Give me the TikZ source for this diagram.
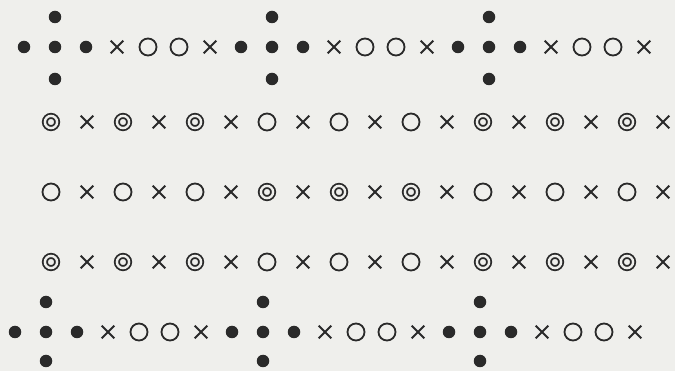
\documentclass[tikz,border=0pt]{standalone}
\usepackage{tikz}
\usetikzlibrary{shapes.misc}
\usepackage{xcolor}
\definecolor{paper}{HTML}{EFEFEC}
\definecolor{ink}{HTML}{2A2A2A}

\begin{document}
\begin{tikzpicture}[x=1pt, y=-1pt,
  dotnode/.style={circle, fill=ink, inner sep=0pt, minimum size=12.5pt},
  ringnode/.style={circle, draw=ink, line width=1.8pt, inner sep=0pt, minimum size=17pt},
  bullnode/.style={circle, draw=ink, double=paper, double distance=2.4pt, line width=1.8pt, inner sep=0pt, minimum size=12.2pt},
  xnode/.style={cross out, draw=ink, line width=2.1pt, inner sep=0pt, minimum size=10.5pt}
]
  \fill[paper] (0,0) rectangle (675,371);
  \useasboundingbox (0,0) rectangle (675,371);

  % top and bottom rows with the plus-shaped clusters
  \foreach \k [count=\i from 0] in {dotnode,dotnode,dotnode,xnode,ringnode,ringnode,xnode,
      dotnode,dotnode,dotnode,xnode,ringnode,ringnode,xnode,
      dotnode,dotnode,dotnode,xnode,ringnode,ringnode,xnode} {
    \node[\k] (top-\i) at ({24+31*\i},47) {};
    \node[\k] (bot-\i) at ({15+31*\i},332) {};
  }
  \foreach \i in {1,8,15} {
    \node[dotnode] (topup-\i) at ({24+31*\i},17) {};
    \node[dotnode] (topdn-\i) at ({24+31*\i},79) {};
    \node[dotnode] (botup-\i) at ({15+31*\i},302) {};
    \node[dotnode] (botdn-\i) at ({15+31*\i},361) {};
  }

  % middle rows
  \foreach \k [count=\i from 0] in {bullnode,xnode,bullnode,xnode,bullnode,xnode,
      ringnode,xnode,ringnode,xnode,ringnode,xnode,bullnode,xnode,bullnode,xnode,bullnode,xnode} {
    \node[\k] (rowa-\i) at ({51+36*\i},122) {};
    \node[\k] (rowc-\i) at ({51+36*\i},262) {};
  }
  \foreach \k [count=\i from 0] in {ringnode,xnode,ringnode,xnode,ringnode,xnode,
      bullnode,xnode,bullnode,xnode,bullnode,xnode,ringnode,xnode,ringnode,xnode,ringnode,xnode} {
    \node[\k] (rowb-\i) at ({51+36*\i},192) {};
  }
\end{tikzpicture}
\end{document}
